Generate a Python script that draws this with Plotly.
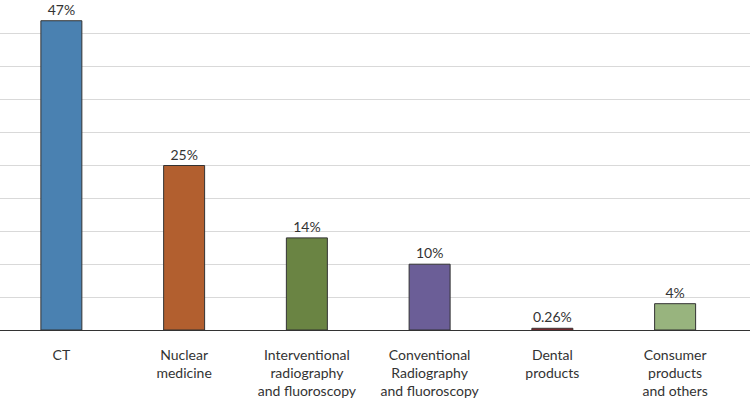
import plotly.graph_objects as go

categories = ["CT", "Nuclear<br>medicine", "Interventional<br>radiography<br>and fluoroscopy",
              "Conventional<br>Radiography<br>and fluoroscopy", "Dental<br>products",
              "Consumer<br>products<br>and others"]
values = [47, 25, 14, 10, 0.26, 4]
labels = ["47%", "25%", "14%", "10%", "0.26%", "4%"]
colors = ["#4a81b1", "#b25f2f", "#6a8443", "#6b5e97", "#b3202b", "#98b47e"]

fig = go.Figure(go.Bar(
    x=categories, y=values, text=labels, textposition="outside",
    marker=dict(color=colors, line=dict(color="#333333", width=1)),
    textfont=dict(size=14, color="#333333"),
    cliponaxis=False,
))

fig.update_layout(
    width=750, height=400,
    margin=dict(l=0, r=0, t=1, b=70),
    paper_bgcolor="white", plot_bgcolor="white",
    font=dict(family="Lato, Noto Sans, sans-serif", size=14, color="#333333"),
    bargap=0.666,
    showlegend=False,
    xaxis=dict(range=[-0.5, 5.61], showline=True, linecolor="#333333", linewidth=1,
               ticks="", tickfont=dict(size=14, color="#333333"), ticklabelstandoff=12,
               automargin=False),
    yaxis=dict(range=[0, 50], dtick=5, showticklabels=False, showgrid=True,
               gridcolor="#d9d9d9", gridwidth=1, zeroline=False),
)

fig.write_html("out.html", config={"displayModeBar": False},
               post_script="document.body.style.margin='0';")
